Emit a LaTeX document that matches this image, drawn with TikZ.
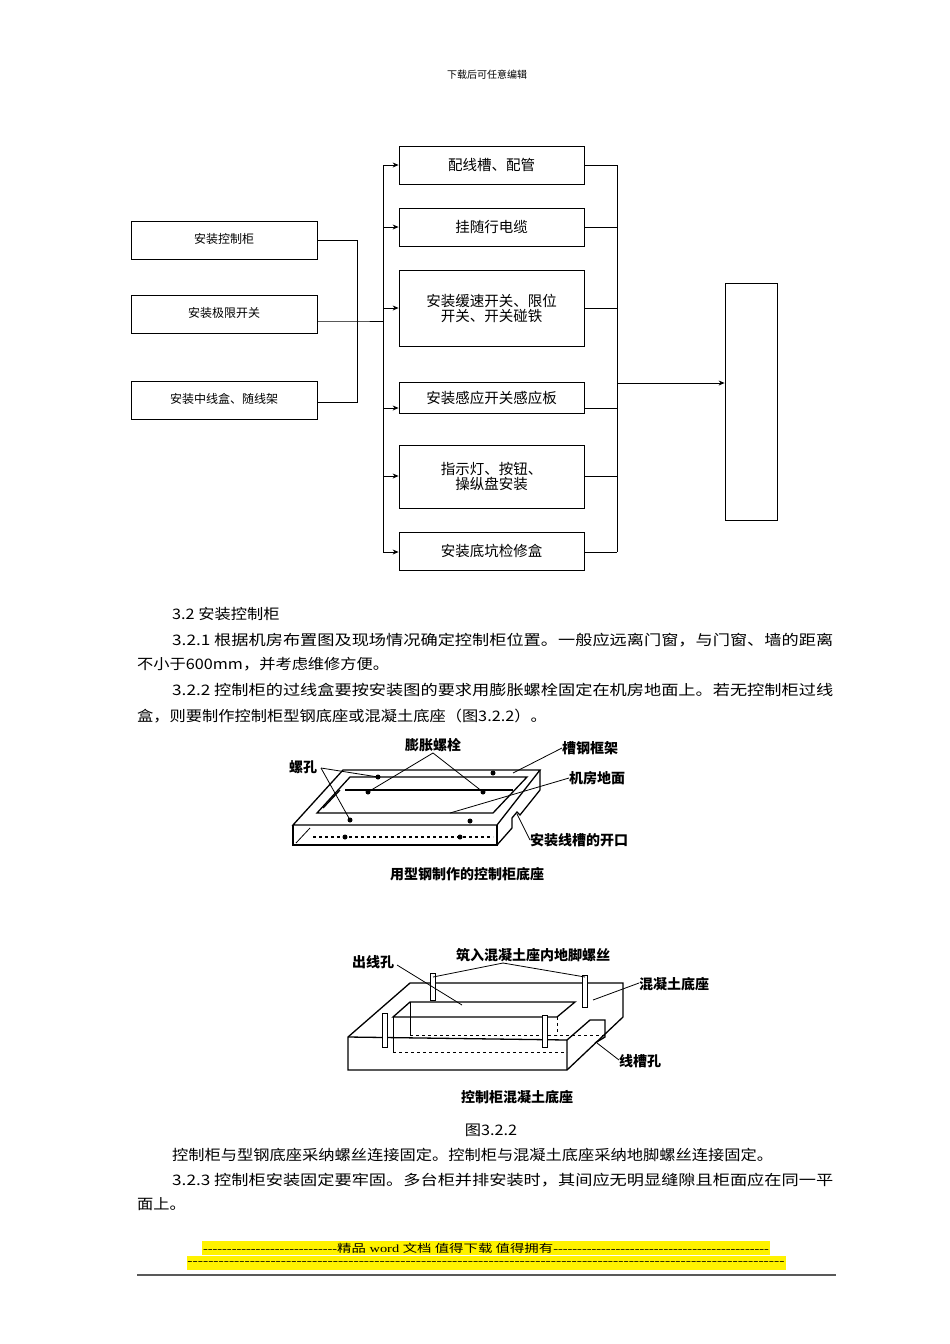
\documentclass[tikz,border=0pt]{standalone}
\usepackage{fontspec}
\setmainfont{Noto Sans CJK SC}
\newfontfamily\lib{Liberation Serif}
\usetikzlibrary{arrows.meta}
\newcommand\mydashes[1]{\count255=0 \loop -\kern0pt\advance\count255 1 \ifnum\count255<#1\repeat}
\newcommand\jline[2]{\resizebox{#1}{\height}{#2}}
\newcommand\wline[1]{\scalebox{1.12}[1]{#1}}
\begin{document}
\begin{tikzpicture}[x=1pt,y=-1pt,
 bx/.style={draw,line width=0.8pt,inner sep=0pt},
 ln/.style={line width=0.8pt},
 ar/.style={line width=0.8pt,-{Stealth[length=6pt,width=5pt]}},
 tx/.style={anchor=west,inner sep=0pt,font=\fontsize{14.5}{16}\selectfont},
 lb/.style={inner sep=0pt,font=\fontsize{14}{16}\selectfont\bfseries},
 fg/.style={line width=1.3pt},
 dot/.style={circle,fill,inner sep=0pt,minimum size=5pt}]
\useasboundingbox (0,0) rectangle (950,1344);
\fill[white] (0,0) rectangle (950,1344);
\node[font=\fontsize{10}{12}\selectfont] (hdr) at (487,75) {下载后可任意编辑};
% left boxes
\foreach \n/\y/\t in {L1/240/安装控制柜,L2/314/安装极限开关,L3/400/安装中线盒、随线架}
 \node[bx,minimum width=186pt,minimum height=38pt,font=\fontsize{12}{14}\selectfont] (\n) at (224,\y) {\raisebox{3pt}{\t}};
\coordinate (c1) at (357,240); \coordinate (c3) at (357,402); \coordinate (cm) at (357,321);
\draw[ln] (L1.east) -- (c1) -- (c3) -- (L3.east|-c3);
\draw[ln] (L2.east|-cm) -- (cm) -- (383,321);
% right boxes
\foreach \n/\ya/\yb/\t in {R1/146/184/配线槽、配管,R2/208/246/挂随行电缆,R3/270/346/{安装缓速开关、限位\\开关、开关碰铁},R4/382/413/安装感应开关感应板,R5/445/508/{指示灯、按钮、\\操纵盘安装},R6/532/570/安装底坑检修盒}
 \node[bx,minimum width=185pt,minimum height={\yb-\ya},align=center,font=\fontsize{14.5}{15}\selectfont] (\n) at (491.5,{(\ya+\yb)/2}) {\t};
\coordinate (b1) at (383,165); \coordinate (b6) at (383,552);
\draw[ln] (b1) -- (b6);
\foreach \n/\y in {R1/165,R2/227,R3/308,R4/408,R5/476,R6/552}{
 \draw[ar] (383,\y) -- (\n.west|-0,\y);
 \draw[ln] (\n.east|-0,\y) -- (617,\y);}
\draw[ln] (617,165) -- (617,552);
\node[bx,minimum width=52pt,minimum height=237pt] (E) at (751,401.5) {};
\coordinate (ea) at (617,383);
\draw[ar] (ea) -- (E.west|-ea);
% body text
\node[tx] (p0) at (172,614) {\wline{3.2 安装控制柜}};
\node[tx] (p1) at (172,640) {\jline{661pt}{3.2.1 根据机房布置图及现场情况确定控制柜位置。一般应远离门窗，与门窗、墙的距离}};
\node[tx] (p1b) at (137,664) {\wline{不小于600mm，并考虑维修方便。}};
\node[tx] (p2) at (172,690) {\jline{661pt}{3.2.2 控制柜的过线盒要按安装图的要求用膨胀螺栓固定在机房地面上。若无控制柜过线}};
\node[tx] (p2b) at (137,716) {\wline{盒，则要制作控制柜型钢底座或混凝土底座（图3.2.2）。}};
% drawing 1
\draw[fg] (293,825) -- (343,770) -- (540,770) -- (497,825) -- cycle;
\draw[fg] (293,825) -- (293,845) -- (497,845) -- (497,825);
\draw[fg] (497,845) -- (512,828) -- (512,818) -- (517,812) -- (520,815) -- (540,790) -- (540,770);
\draw[fg] (317,813) -- (350,777) -- (527,777) -- (493,813) -- cycle;
\draw[fg] (345,790) -- (513,790);
\draw[fg] (323,808) -- (340,790);
\draw[ln] (296,843) -- (310,828);
\draw[fg,dashed] (313,837) -- (493,837);
\foreach \p in {(378,777),(368,792),(483,792),(493,773),(350,820),(470,821),(345,837),(460,837)} \node[dot] at \p {};
\node[lb] (d1a) at (433,745) {膨胀螺栓};
\draw[ln] (433,753) -- (368,792); \draw[ln] (433,753) -- (483,792);
\node[lb] (d1b) at (303,767) {螺孔};
\draw[ln] (321,768) -- (378,777); \draw[ln] (321,768) -- (350,820);
\node[lb,anchor=west] (d1c) at (562,748) {槽钢框架};
\draw[ln] (562,748) -- (513,773);
\node[lb,anchor=west] (d1d) at (569,778) {机房地面};
\draw[ln] (569,778) -- (450,813);
\node[lb,anchor=west] (d1e) at (530,840) {安装线槽的开口};
\draw[ln] (530,840) -- (525,830) -- (517,814);
\node[lb] (d1f) at (467,874) {用型钢制作的控制柜底座};
% drawing 2
\draw[fg] (348,1037) -- (410,983) -- (623,983) -- (623,1017) -- (567,1070) -- (348,1070) -- cycle;
\draw[fg] (348,1037) -- (567,1040) -- (567,1070);
\draw[fg] (567,1040) -- (590,1020) -- (605,1020) -- (605,1037) -- (595,1043);
\draw[fg] (393,1017) -- (410,1002) -- (575,1002) -- (557,1017) -- cycle;
\draw[ln] (393,1017) -- (393,1052); \draw[ln] (410,1002) -- (410,1035);
\draw[ln,dashed] (393,1052) -- (567,1052);
\draw[ln,dashed] (410,1035) -- (605,1035);
\draw[ln,dashed] (557,1017) -- (557,1035);
\foreach \x/\ya/\yb in {433/973/1000,585/975/1007,385/1013/1047,545/1015/1047}
 \draw[line width=0.8pt,fill=white] (\x-2.5,\ya) rectangle (\x+2.5,\yb);
\node[lb] (d2a) at (533,955) {筑入混凝土座内地脚螺丝};
\draw[ln] (503,963) -- (433,977); \draw[ln] (503,963) -- (585,977);
\node[lb] (d2b) at (373,962) {出线孔};
\draw[ln] (397,965) -- (462,1005);
\node[lb,anchor=west] (d2c) at (639,984) {混凝土底座};
\draw[ln] (639,983) -- (593,1000);
\node[lb,anchor=west] (d2d) at (619,1061) {线槽孔};
\draw[ln] (619,1060) -- (597,1043);
\node[lb] (d2e) at (517,1097) {控制柜混凝土底座};
\node[tx,anchor=center] (cap) at (491,1130) {\wline{图3.2.2}};
\node[tx] (p3) at (172,1155) {\wline{控制柜与型钢底座采纳螺丝连接固定。控制柜与混凝土底座采纳地脚螺丝连接固定。}};
\node[tx] (p4) at (172,1180) {\jline{661pt}{3.2.3 控制柜安装固定要牢固。多台柜并排安装时，其间应无明显缝隙且柜面应在同一平}};
\node[tx] (p4b) at (137,1204) {\wline{面上。}};
% footer
\fill[yellow] (202,1241) rectangle (770,1255);
\fill[yellow] (187,1256) rectangle (786,1270);
\node[inner sep=0pt,font=\fontsize{11}{12}\selectfont] (f1) at (486,1248) {\resizebox{566pt}{\height}{{\lib\mydashes{28}}精品{\lib\ word }文档 值得下载 值得拥有{\lib\mydashes{45}}}};
\node[inner sep=0pt,font=\fontsize{11}{12}\selectfont] (f2) at (486,1263) {\resizebox{597pt}{\height}{\lib\mydashes{115}}};
\draw[gray!70!black,line width=2pt] (137,1275) -- (836,1275);
\end{tikzpicture}
\end{document}
